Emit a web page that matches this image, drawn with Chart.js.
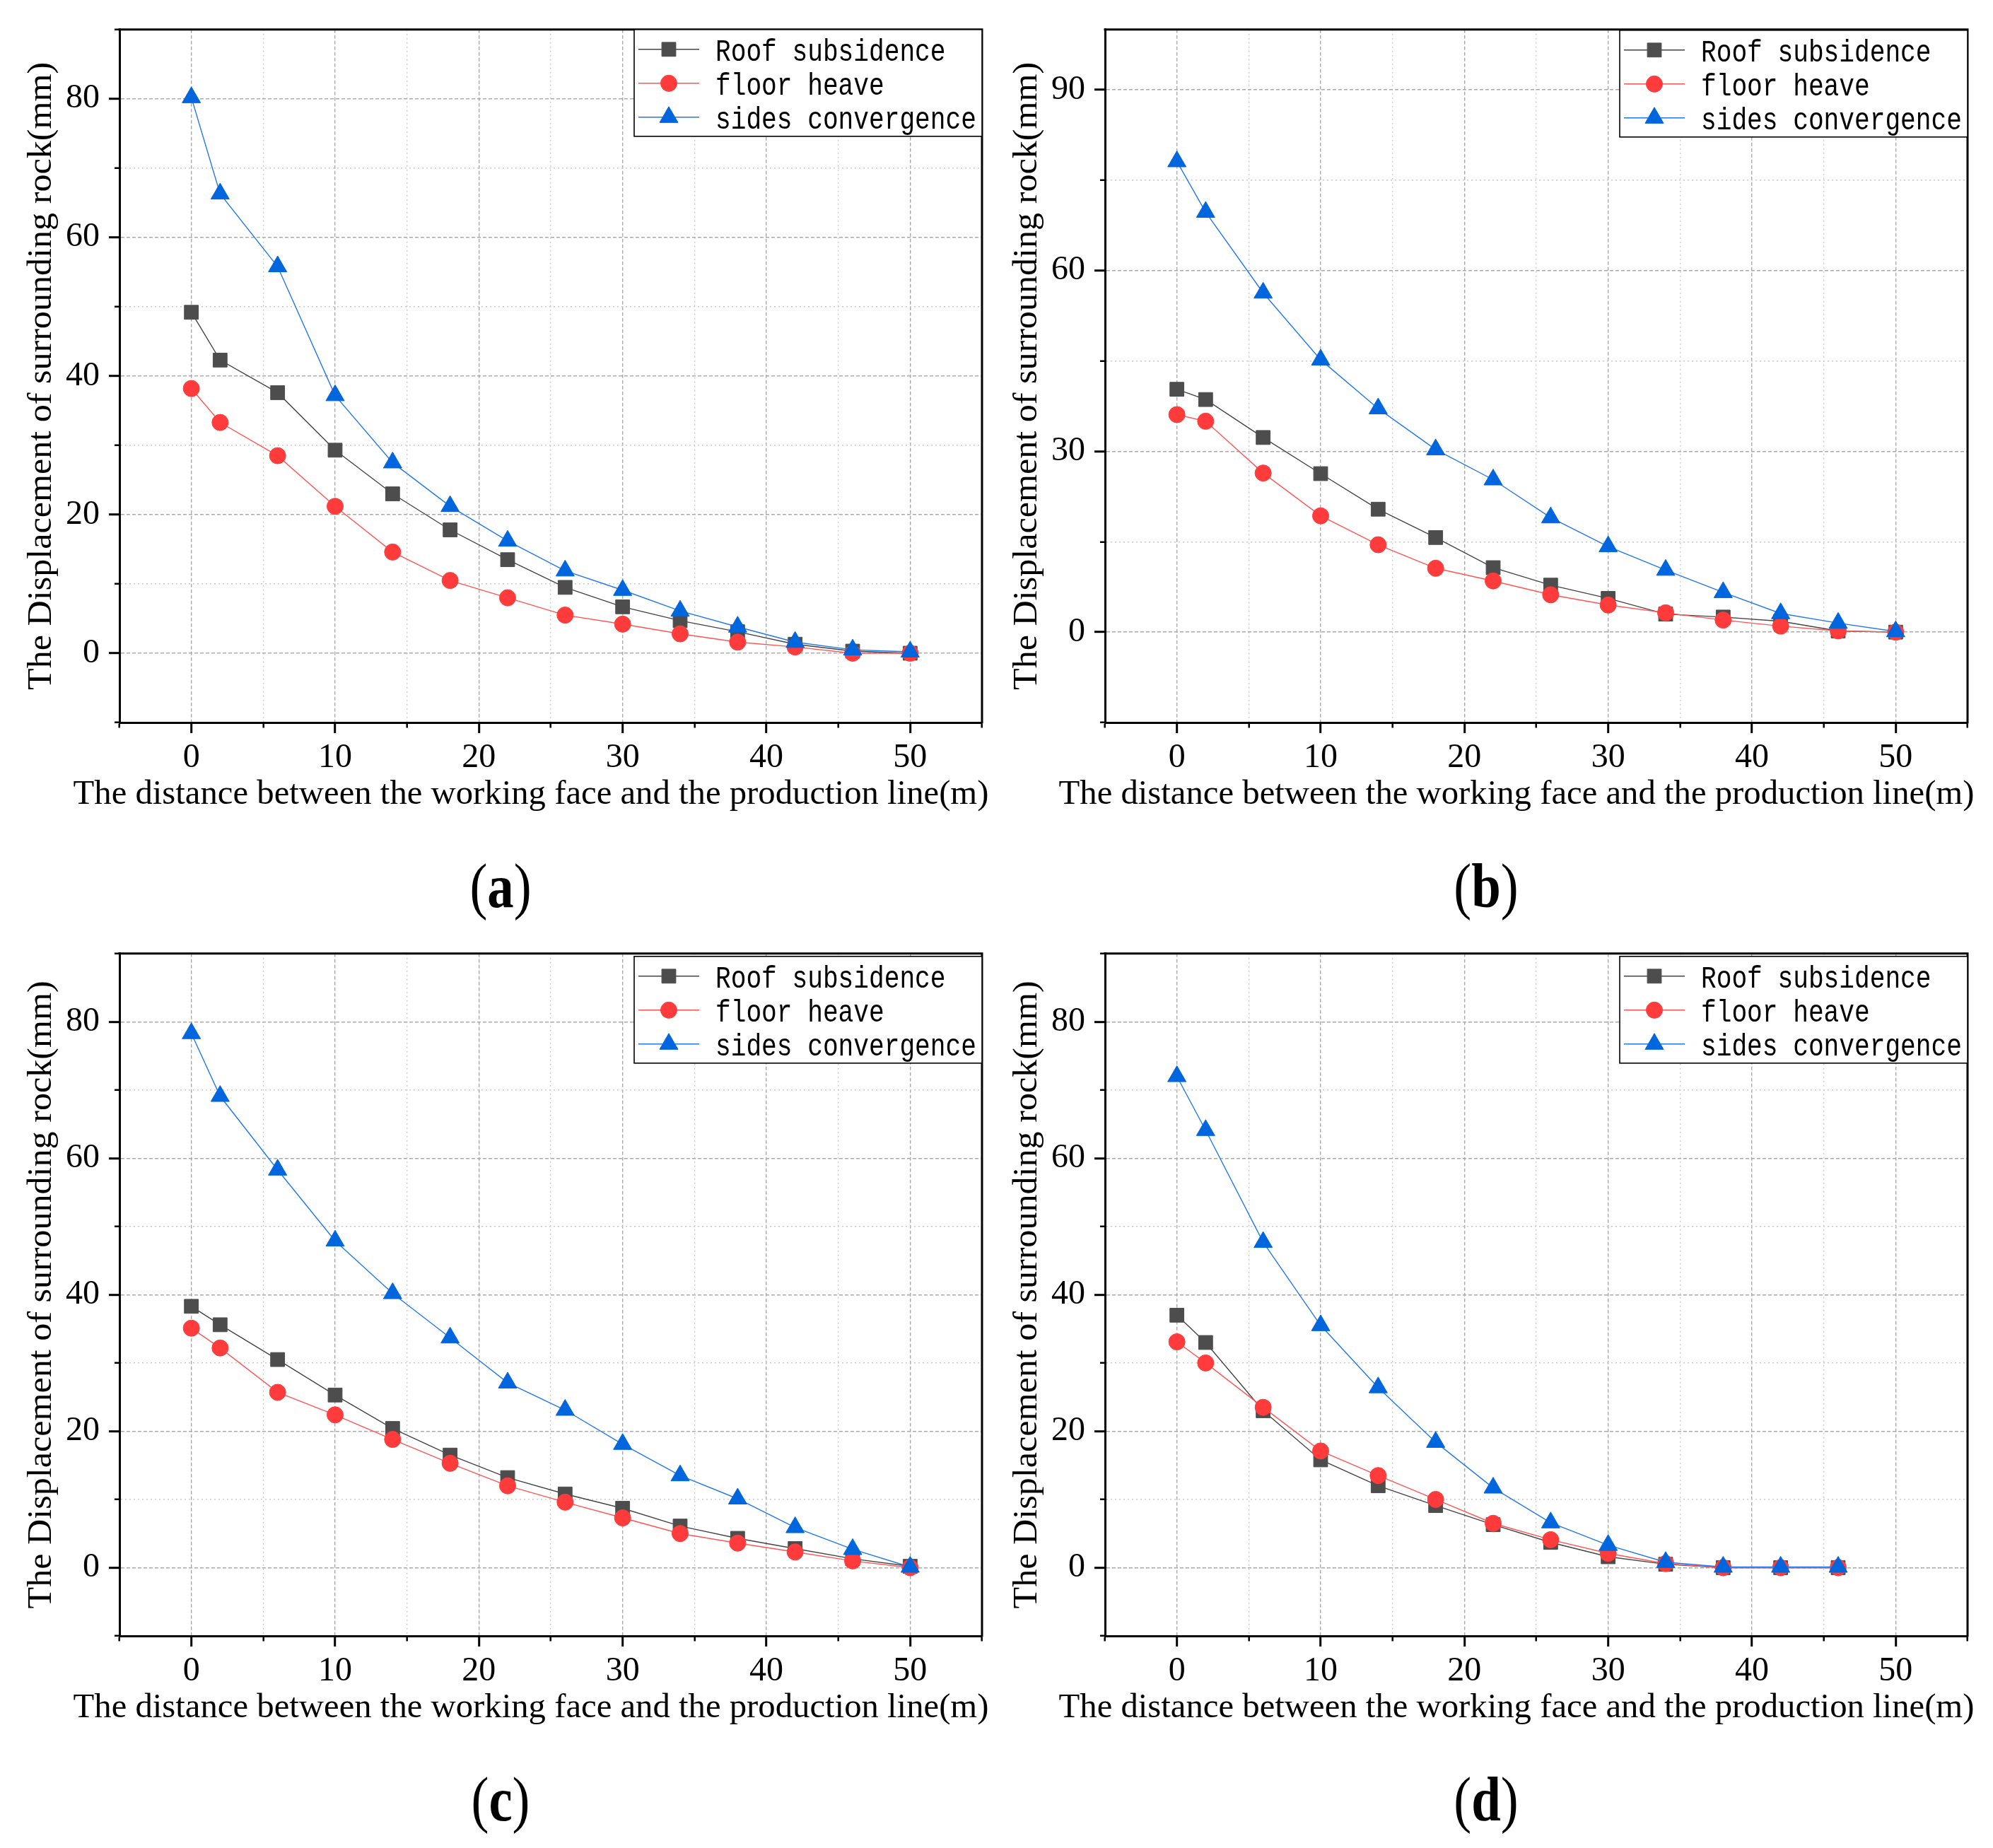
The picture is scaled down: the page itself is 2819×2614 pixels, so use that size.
<!DOCTYPE html>
<html>
<head>
<meta charset="utf-8">
<title>Displacement of surrounding rock</title>
<script src="https://cdn.jsdelivr.net/npm/chart.js@4.4.1/dist/chart.umd.min.js"></script>
<style>
  html, body { margin: 0; padding: 0; background: #fff; }
  #wrap { position: relative; width: 2819px; height: 2614px; background: #fff; }
  #wrap canvas { position: absolute; }
</style>
</head>
<body>
<div id="wrap">
  <canvas id="chartA" width="1410" height="1307" style="left:0px;top:0px"></canvas>
  <canvas id="chartB" width="1409" height="1307" style="left:1410px;top:0px"></canvas>
  <canvas id="chartC" width="1410" height="1307" style="left:0px;top:1307px"></canvas>
  <canvas id="chartD" width="1409" height="1307" style="left:1410px;top:1307px"></canvas>
</div>
<script>
// distance from the working face (m)
const distance = [0, 2, 6, 10, 14, 18, 22, 26, 30, 34, 38, 42, 46, 50];

// (a)
const roofA  = [49.2, 42.3, 37.6, 29.3, 23.0, 17.8, 13.5, 9.5, 6.7, 4.7, 3.1, 1.3, 0.3, 0];
const floorA = [38.2, 33.3, 28.5, 21.2, 14.6, 10.5, 8.0, 5.5, 4.2, 2.8, 1.6, 0.9, 0, 0];
const sidesA = [80.2, 66.3, 55.8, 37.2, 27.5, 21.2, 16.2, 11.9, 9.1, 6.1, 3.8, 1.6, 0.5, 0.2];

// (b)
const roofB  = [40.3, 38.6, 32.3, 26.3, 20.4, 15.7, 10.7, 7.8, 5.6, 3.0, 2.5, 1.8, 0.2, 0];
const floorB = [36.1, 35.0, 26.4, 19.3, 14.5, 10.6, 8.5, 6.2, 4.5, 3.2, 2.0, 1.0, 0.2, 0];
const sidesB = [78.1, 69.7, 56.3, 45.2, 37.1, 30.3, 25.3, 19.0, 14.2, 10.3, 6.6, 3.1, 1.5, 0.1];

// (c)
const roofC  = [38.3, 35.6, 30.5, 25.3, 20.4, 16.5, 13.2, 10.8, 8.7, 6.1, 4.3, 2.8, 1.3, 0.2];
const floorC = [35.1, 32.2, 25.7, 22.4, 18.8, 15.3, 12.0, 9.6, 7.3, 5.0, 3.6, 2.3, 1.0, 0];
const sidesC = [78.3, 69.1, 58.3, 47.9, 40.2, 33.7, 27.1, 23.1, 18.1, 13.5, 10.1, 5.9, 2.7, 0.1];

// (d) - measured up to 46 m only
const roofD  = [37.0, 33.0, 23.0, 15.8, 12.0, 9.1, 6.3, 3.7, 1.6, 0.5, 0, 0, 0];
const floorD = [33.1, 30.0, 23.5, 17.1, 13.5, 10.0, 6.5, 4.1, 2.1, 0.6, 0, 0, 0];
const sidesD = [72.0, 64.1, 47.7, 35.5, 26.4, 18.4, 11.7, 6.6, 3.3, 0.8, 0.1, 0.1, 0.1];

const seriesNames = ['Roof subsidence', 'floor heave', 'sides convergence'];
const xTickLabels = [0, 10, 20, 30, 40, 50];
const yTickLabels80 = [0, 20, 40, 60, 80];
const yTickLabels90 = [0, 30, 60, 90];

const X_TITLE = 'The distance between the working face and the production line(m)';
const Y_TITLE = 'The Displacement of surrounding rock(mm)';

const SERIF = '"Liberation Serif", "Times New Roman", serif';
const MONO = '"Liberation Mono", "DejaVu Sans Mono", monospace';

const styles = [
  { line: '#444444', fill: '#4d4d4d', shape: 'rect', radius: 14, order: 3 },
  { line: '#ff5555', fill: '#ff3b3b', shape: 'circle', radius: 11.5, order: 2 },
  { line: '#2277ee', fill: '#0066dd', shape: 'triangle', radius: 15, order: 1 }
];

function near(v, list) {
  return list.some(m => Math.abs(v - m) < 1e-6);
}

function tickKind(v, majors, minorStep) {
  if (near(v, majors)) return 'major';
  const r = v / minorStep;
  if (Math.abs(r - Math.round(r)) < 1e-6) return 'minor';
  return 'none';
}

function makeAxis(cfg) {
  const kind = ctx => ctx.tick ? tickKind(ctx.tick.value, cfg.majors, cfg.minorStep) : 'none';
  return {
    type: 'linear',
    position: cfg.position,
    min: cfg.min,
    max: cfg.max,
    ticks: {
      stepSize: cfg.minorStep,
      autoSkip: false,
      maxRotation: 0,
      padding: cfg.padding,
      color: '#000',
      font: { family: SERIF, size: 48 },
      callback: v => near(v, cfg.majors) ? String(v) : ''
    },
    grid: {
      color: ctx => {
        const k = kind(ctx);
        return k === 'major' ? '#aaaaaa' : (k === 'minor' ? '#cccccc' : 'rgba(0,0,0,0)');
      },
      lineWidth: 1.4,
      drawTicks: true,
      tickLength: 15,
      tickColor: ctx => kind(ctx) === 'none' ? 'rgba(0,0,0,0)' : '#000',
      tickWidth: ctx => kind(ctx) === 'major' ? 3 : 2.5,
      tickBorderDash: ctx => kind(ctx) === 'minor' ? cfg.minorDash : []
    },
    border: {
      display: true,
      color: '#000',
      width: 3,
      dash: ctx => {
        if (!ctx.tick) return [];
        return kind(ctx) === 'major' ? [5, 3] : [2, 4];
      }
    },
    afterFit: cfg.afterFit
  };
}

// text squeezed/stretched horizontally to a target width
function fitText(ctx, text, x, y, font, width) {
  ctx.font = font;
  const w = ctx.measureText(text).width;
  ctx.save();
  ctx.translate(x, y);
  ctx.scale(width / w, 1);
  ctx.textAlign = 'center';
  ctx.textBaseline = 'alphabetic';
  ctx.fillText(text, 0, 0);
  ctx.restore();
}

function drawMarker(ctx, st, x, y) {
  ctx.fillStyle = st.fill;
  ctx.strokeStyle = st.fill;
  ctx.lineWidth = 1;
  if (Chart.helpers && Chart.helpers.drawPoint) {
    Chart.helpers.drawPoint(ctx, { pointStyle: st.shape, radius: st.radius, borderWidth: 1, rotation: 0 }, x, y);
  }
}

const panelDecor = {
  id: 'panelDecor',
  afterDraw(chart, args, opts) {
    const ctx = chart.ctx;
    const a = chart.chartArea;
    ctx.save();

    // box frame (top and right)
    ctx.strokeStyle = '#000';
    ctx.lineWidth = 3;
    ctx.beginPath();
    ctx.moveTo(a.left - 1.5, a.top);
    ctx.lineTo(a.right, a.top);
    ctx.lineTo(a.right, a.bottom + 1.5);
    ctx.stroke();

    // legend box in the upper right corner
    const lw = 492, lh = 151;
    const lx = a.right - lw, ly = a.top + opts.legendOffset;
    ctx.fillStyle = '#fff';
    ctx.fillRect(lx, ly, lw, lh);
    ctx.strokeStyle = '#000';
    ctx.lineWidth = 1.6;
    ctx.strokeRect(lx, ly, lw, lh);
    ctx.font = '44px ' + MONO;
    const adv = ctx.measureText('M').width;
    const sx = 21.7 / adv;
    chart.data.datasets.forEach((ds, i) => {
      const st = styles[i];
      const cy = ly + 28 + i * 48;
      ctx.strokeStyle = st.line;
      ctx.lineWidth = 1.5;
      ctx.beginPath();
      ctx.moveTo(lx + 6, cy);
      ctx.lineTo(lx + 92, cy);
      ctx.stroke();
      drawMarker(ctx, st, lx + 49, cy);
      ctx.save();
      ctx.translate(lx + 115, cy + 16);
      ctx.scale(sx, 1);
      ctx.fillStyle = '#000';
      ctx.font = '44px ' + MONO;
      ctx.textAlign = 'left';
      ctx.textBaseline = 'alphabetic';
      ctx.fillText(ds.label, 0, 0);
      ctx.restore();
    });

    // axis titles
    ctx.fillStyle = '#000';
    const cx = (a.left + a.right) / 2;
    fitText(ctx, X_TITLE, cx - 28, a.bottom + 115, '49px ' + SERIF, 1295);
    ctx.save();
    ctx.translate(a.left - 97, (a.top + a.bottom) / 2);
    ctx.rotate(-Math.PI / 2);
    fitText(ctx, Y_TITLE, 0, 0, '48px ' + SERIF, 888);
    ctx.restore();

    // panel label, e.g. (a)
    const k = 0.85;
    const normal = '88px ' + SERIF, bold = 'bold 88px ' + SERIF;
    ctx.font = normal;
    const wp1 = ctx.measureText('(').width, wp2 = ctx.measureText(')').width;
    ctx.font = bold;
    const wl = ctx.measureText(opts.label).width;
    const total = (wp1 + wl + wp2) * k;
    ctx.save();
    ctx.translate(cx - 71 - total / 2, a.bottom + 261);
    ctx.scale(k, 1);
    ctx.textAlign = 'left';
    ctx.textBaseline = 'alphabetic';
    ctx.font = normal;
    ctx.fillText('(', 0, 0);
    ctx.font = bold;
    ctx.fillText(opts.label, wp1, 0);
    ctx.font = normal;
    ctx.fillText(')', wp1 + wl, 0);
    ctx.restore();

    ctx.restore();
  }
};

function buildDatasets(series) {
  return series.map((vals, i) => {
    const st = styles[i];
    return {
      label: seriesNames[i],
      data: vals.map((v, j) => ({ x: distance[j], y: v })),
      borderColor: st.line,
      backgroundColor: st.fill,
      borderWidth: 1.4,
      pointStyle: st.shape,
      pointRadius: st.radius,
      pointHoverRadius: st.radius,
      pointBackgroundColor: st.fill,
      pointBorderColor: st.fill,
      pointBorderWidth: 1,
      tension: 0,
      order: st.order,
      clip: false
    };
  });
}

function makeChart(id, series, p) {
  new Chart(document.getElementById(id), {
    type: 'line',
    data: { datasets: buildDatasets(series) },
    options: {
      responsive: false,
      animation: false,
      devicePixelRatio: 1,
      layout: { padding: { top: p.top, right: p.right, left: 0, bottom: 0 } },
      plugins: {
        legend: { display: false },
        tooltip: { enabled: false },
        title: { display: false },
        panelDecor: { label: p.label, legendOffset: p.legendOffset }
      },
      scales: {
        x: makeAxis({
          position: 'bottom', min: -5, max: 55, minorStep: 5, majors: xTickLabels,
          padding: 7, minorDash: [5.5, 40],
          afterFit: s => { s.height = p.xHeight; }
        }),
        y: makeAxis({
          position: 'left', min: p.yMin, max: p.yMax, minorStep: p.yStep, majors: p.yMajors,
          padding: 13, minorDash: [0, 8, 40, 0],
          afterFit: s => { s.width = p.yWidth; }
        })
      }
    },
    plugins: [panelDecor]
  });
}

makeChart('chartA', [roofA, floorA, sidesA], {
  label: 'a', top: 33, right: 21, xHeight: 285, yWidth: 169, legendOffset: 0,
  yMin: -10, yMax: 90, yStep: 10, yMajors: yTickLabels80
});
makeChart('chartB', [roofB, floorB, sidesB], {
  label: 'b', top: 33, right: 36, xHeight: 285, yWidth: 153, legendOffset: 1,
  yMin: -15, yMax: 100, yStep: 15, yMajors: yTickLabels90
});
makeChart('chartC', [roofC, floorC, sidesC], {
  label: 'c', top: 17, right: 21, xHeight: 300, yWidth: 169, legendOffset: 4,
  yMin: -10, yMax: 90, yStep: 10, yMajors: yTickLabels80
});
makeChart('chartD', [roofD, floorD, sidesD], {
  label: 'd', top: 17, right: 36, xHeight: 300, yWidth: 153, legendOffset: 4,
  yMin: -10, yMax: 90, yStep: 10, yMajors: yTickLabels80
});
</script>
</body>
</html>
